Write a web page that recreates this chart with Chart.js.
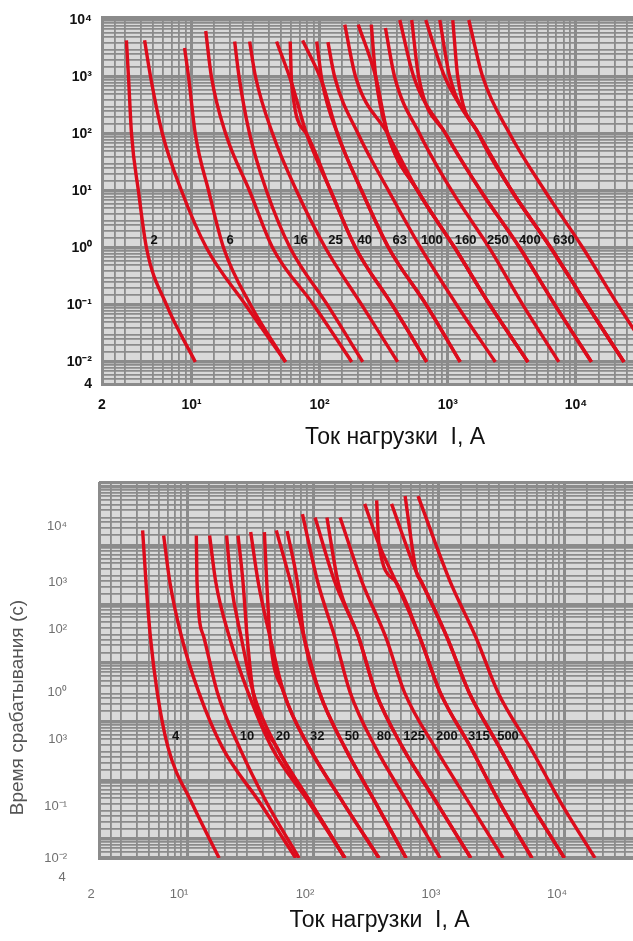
<!DOCTYPE html>
<html>
<head>
<meta charset="utf-8">
<script src="https://cdn.jsdelivr.net/npm/chart.js@4.4.0/dist/chart.umd.min.js"></script>
<style>
  html, body { margin: 0; padding: 0; background: #fff; overflow: hidden; width: 633px; height: 941px; }
  #boxTop { position: absolute; left: 0; top: 0; }
  #boxBot { position: absolute; left: 0; top: 460px; }
</style>
</head>
<body>
<div id="boxTop"><canvas id="topChart" width="688" height="460"></canvas></div>
<div id="boxBot"><canvas id="botChart" width="660" height="481"></canvas></div>
<script>
// ---------- upper panel: current (A) and time (s) of each curve ----------
const topCurrent = [
  [3.10, 3.22, 3.40, 3.85, 4.45, 6.38, 10.7],
  [4.30, 4.79, 5.93, 8.36, 13.1, 26.4, 54.2],
  [8.82, 9.48, 10.7, 13.6, 17.8, 28.9, 54.2],
  [12.9, 14.3, 18.5, 28.4, 43.0, 89.8, 178],
  [21.7, 23.5, 28.4, 38.5, 58.9, 115, 217],
  [28.4, 31.6, 43.0, 66.1, 111, 213, 406],
  [46.1, 60.4, 79.1, 122, 191, 368, 685],
  [58.9, 60.4, 79.1, 122, 191, 368, 685],
  [73.6, 105, 138, 213, 346, 679, 1250],
  [94.8, 105, 138, 213, 346, 679, 1250],
  [116, 131, 200, 346, 615, 1175, 2350],
  [157, 191, 340, 583, 1135, 2130, 4220],
  [200, 274, 340, 583, 1135, 2130, 4220],
  [253, 274, 340, 583, 1135, 2130, 4220],
  [326, 385, 604, 1075, 2110, 3855, 7360],
  [422, 543, 965, 1810, 3652, 6855, 13210],
  [523, 593, 965, 1810, 3652, 6855, 13210],
  [673, 948, 1746, 3162, 6380, 12190, 23710],
  [866, 1038, 1746, 3162, 6380, 12190, 23710],
  [1094, 1197, 1746, 3162, 6380, 12190, 23710],
  [1459, 1876, 3050, 5730, 11350, 21300, 41400]
];
const topTime = [
  [4400, 1000, 100, 10, 1, 0.1, 0.01],
  [4400, 1000, 100, 10, 1, 0.1, 0.01],
  [3240, 1000, 100, 10, 1, 0.1, 0.01],
  [6400, 1000, 100, 10, 1, 0.1, 0.01],
  [4200, 1000, 100, 10, 1, 0.1, 0.01],
  [4200, 1000, 100, 10, 1, 0.1, 0.01],
  [4200, 785, 100, 10, 1, 0.1, 0.01],
  [4200, 785, 100, 10, 1, 0.1, 0.01],
  [4400, 785, 100, 10, 1, 0.1, 0.01],
  [4200, 785, 100, 10, 1, 0.1, 0.01],
  [4100, 1000, 100, 10, 1, 0.1, 0.01],
  [8300, 1000, 100, 10, 1, 0.1, 0.01],
  [8300, 1000, 100, 10, 1, 0.1, 0.01],
  [8300, 1000, 100, 10, 1, 0.1, 0.01],
  [7240, 1000, 100, 10, 1, 0.1, 0.01],
  [10000, 1000, 100, 10, 1, 0.1, 0.01],
  [10000, 1000, 100, 10, 1, 0.1, 0.01],
  [10000, 1000, 100, 10, 1, 0.1, 0.01],
  [10000, 1000, 100, 10, 1, 0.1, 0.01],
  [10000, 1000, 100, 10, 1, 0.1, 0.01],
  [10000, 1000, 100, 10, 1, 0.1, 0.01]
];
const topNames = ['2', '6', '16', '25', '40', '63', '100', '160', '250', '400', '630'];
const topNameCurrent = [5.1, 20, 71, 133, 225, 422, 750, 1380, 2460, 4380, 8060];
const topNameTime = 1.38;
const topXTicks = [2, 10, 100, 1000, 10000];
const topXText = ['2', '10¹', '10²', '10³', '10⁴'];
const topYTicks = [0.0041, 0.01, 0.1, 1, 10, 100, 1000, 10000];
const topYText = ['4', '10⁻²', '10⁻¹', '10⁰', '10¹', '10²', '10³', '10⁴'];

// ---------- lower panel ----------
const botCurrent = [
  [4.44, 4.72, 5.12, 5.80, 7.07, 10.9, 17.97],
  [6.52, 7.30, 9.06, 12.4, 19.1, 37.9, 72.8],
  [11.85, 12.0, 13.6, 17.4, 26.1, 42.9, 77.4],
  [15.1, 16.9, 21.7, 30.5, 47.1, 93.3, 179],
  [20.6, 22.3, 26.9, 33.5, 51.7, 96.3, 179],
  [25.4, 27.8, 30.0, 33.5, 51.7, 96.3, 179],
  [32.0, 36.7, 45.6, 58.5, 93.3, 173.8, 334],
  [41.1, 42.9, 45.6, 58.5, 93.3, 173.8, 334],
  [51.1, 66.3, 84.9, 112.5, 179, 314, 548],
  [62.3, 75.1, 84.9, 112.5, 179, 314, 548],
  [82.4, 109, 149, 197, 314, 566, 1021],
  [103.8, 149, 230, 314, 515, 960, 1787],
  [128.9, 158, 230, 314, 515, 960, 1787],
  [164, 245, 378, 532, 931, 1733, 3228],
  [257, 334, 455, 703, 1021, 1787, 3033, 5470],
  [320, 334, 455, 703, 1021, 1787, 3033, 5470],
  [420, 661, 726, 1157, 1733, 3033, 5310, 9890],
  [538, 661, 726, 1157, 1733, 3033, 5310, 9890],
  [682, 1231, 1962, 2940, 5310, 9290, 17300]
];
const botTime = [
  [8630, 1000, 100, 10, 1, 0.1, 0.01],
  [6980, 1000, 100, 10, 1, 0.1, 0.01],
  [6980, 1000, 100, 10, 1, 0.1, 0.01],
  [6980, 1000, 100, 10, 1, 0.1, 0.01],
  [6980, 1000, 100, 10, 1, 0.1, 0.01],
  [6980, 1000, 100, 10, 1, 0.1, 0.01],
  [8040, 1000, 100, 10, 1, 0.1, 0.01],
  [8040, 1000, 100, 10, 1, 0.1, 0.01],
  [8630, 1000, 100, 10, 1, 0.1, 0.01],
  [8400, 1000, 100, 10, 1, 0.1, 0.01],
  [17000, 1000, 100, 10, 1, 0.1, 0.01],
  [14800, 1000, 100, 10, 1, 0.1, 0.01],
  [14800, 1000, 100, 10, 1, 0.1, 0.01],
  [14800, 1000, 100, 10, 1, 0.1, 0.01],
  [26100, 4750, 1000, 100, 10, 1, 0.1, 0.01],
  [30100, 4750, 1000, 100, 10, 1, 0.1, 0.01],
  [26100, 1528, 1000, 100, 10, 1, 0.1, 0.01],
  [36100, 1528, 1000, 100, 10, 1, 0.1, 0.01],
  [36100, 1000, 100, 10, 1, 0.1, 0.01]
];
const botNames = ['4', '10', '20', '32', '50', '80', '125', '200', '315', '500'];
const botNameCurrent = [8.1, 29.9, 57.8, 108, 204, 366, 634, 1156, 2075, 3530];
const botNameTime = 1.62;
const botXTicks = [2, 10, 100, 1000, 10000];
const botXText = ['2', '10¹', '10²', '10³', '10⁴'];
const botYTicks = [0.01, 0.085, 1.4, 10, 140, 1000, 10000];
const botYText = ['10⁻²', '10⁻¹', '10³', '10⁰', '10²', '10³', '10⁴'];

// ---------- helpers ----------
const RED = '#dc0c1c';
const GRIDC = '#8b8b8b';
const gridSteps = [1, 1.5, 2, 2.5, 3, 4, 5, 6, 7, 8, 9];

function gridValues(min, max) {
  const out = [min];
  for (let e = -4; e <= 5; e++) {
    gridSteps.forEach(k => {
      const v = k * Math.pow(10, e);
      if (v > min * 1.001 && v < max / 1.001) out.push(v);
    });
  }
  out.push(max);
  return out;
}
const isDecade = v => Math.abs(Math.log10(v) - Math.round(Math.log10(v))) < 1e-6;
function textFor(vals, texts) {
  return v => {
    const i = vals.findIndex(u => Math.abs(Math.log10(u) - Math.log10(v)) < 1e-4);
    return i >= 0 ? texts[i] : '';
  };
}
// the box sizes are fixed by hand, so drop the padding Chart.js adds for labels
function fixBox(w, h) {
  return s => {
    if (w !== null) s.width = w;
    if (h !== null) s.height = h;
    s.paddingLeft = 0; s.paddingRight = 0; s.paddingTop = 0; s.paddingBottom = 0;
  };
}
function makeSets(cur, tim) {
  return cur.map((xs, i) => ({
    data: xs.map((x, j) => ({ x: x, y: tim[i][j] })),
    showLine: true,
    borderColor: RED,
    borderWidth: 3.4,
    pointRadius: 0,
    fill: false,
    cubicInterpolationMode: 'monotone'
  }));
}

const plotBack = {
  id: 'plotBack',
  beforeDraw(chart) {
    const a = chart.chartArea, c = chart.ctx;
    c.save();
    c.fillStyle = '#d9d9d9';
    c.fillRect(a.left, a.top, a.right - a.left, a.bottom - a.top);
    c.restore();
  }
};
function curveNames(names, cur, time, extra) {
  return {
    id: 'curveNames',
    afterDatasetsDraw(chart) {
      const c = chart.ctx, xs = chart.scales.x, ys = chart.scales.y;
      c.save();
      c.font = 'bold 13px "Liberation Sans", Arial, sans-serif';
      c.fillStyle = '#111';
      c.textAlign = 'center';
      c.textBaseline = 'middle';
      names.forEach((s, i) => c.fillText(s, xs.getPixelForValue(cur[i]), ys.getPixelForValue(time)));
      c.restore();
      if (extra) extra(chart);
    }
  };
}

// decade lines and the frame are heavier than the other grid lines
const gridWidth = (major, minor) => ctx => {
  if (!ctx.tick) return minor;
  const v = ctx.tick.value, s = ctx.scale;
  if (Math.abs(v - s.min) < s.min * 1e-6 || Math.abs(v - s.max) < s.max * 1e-6) return 3;
  return isDecade(v) ? major : minor;
};
const boldFont = { family: '"Liberation Sans", Arial, sans-serif', size: 14, weight: 'bold' };
const titleFont = { family: '"Liberation Sans", Arial, sans-serif', size: 23 };

// ---------- upper chart ----------
const tMinX = 2, tMaxX = 75000, tMinY = 0.0041, tMaxY = 11300;
new Chart(document.getElementById('topChart'), {
  type: 'scatter',
  data: { datasets: makeSets(topCurrent, topTime) },
  options: {
    responsive: false,
    animation: false,
    layout: { padding: { top: 17, left: 0, right: 0, bottom: 0 } },
    plugins: { legend: { display: false }, tooltip: { enabled: false } },
    scales: {
      x: {
        type: 'logarithmic', min: tMinX, max: tMaxX,
        afterBuildTicks: s => { s.ticks = gridValues(tMinX, tMaxX).map(v => ({ value: v })); },
        afterFit: fixBox(null, 76),
        grid: { color: GRIDC, lineWidth: gridWidth(3, 1.8), drawTicks: false },
        border: { color: GRIDC, width: 3 },
        ticks: {
          autoSkip: false, maxRotation: 0, padding: 13, color: '#111', font: boldFont,
          callback: textFor(topXTicks, topXText)
        },
        title: {
          display: true, text: 'Ток нагрузки  I, А', color: '#111', font: titleFont,
          padding: { top: 0, bottom: 9 }
        }
      },
      y: {
        type: 'logarithmic', min: tMinY, max: tMaxY,
        afterBuildTicks: s => { s.ticks = gridValues(tMinY, tMaxY).map(v => ({ value: v })); },
        afterFit: fixBox(102, null),
        grid: { color: GRIDC, lineWidth: gridWidth(3.5, 1.8), drawTicks: false },
        border: { color: GRIDC, width: 3 },
        ticks: {
          autoSkip: false, padding: 10, color: '#111', font: boldFont,
          callback: textFor(topYTicks, topYText)
        }
      }
    }
  },
  plugins: [plotBack, curveNames(topNames, topNameCurrent, topNameTime)]
});

// ---------- lower chart ----------
const bMinX = 2, bMaxX = 56800, bMinY = 0.01, bMaxY = 64900, gMinY = 0.00476, gMaxY = 12160;
const lightFont = { family: '"Liberation Sans Narrow", "Liberation Sans", Arial, sans-serif', size: 13 };
new Chart(document.getElementById('botChart'), {
  type: 'scatter',
  data: { datasets: makeSets(botCurrent, botTime) },
  options: {
    responsive: false,
    animation: false,
    layout: { padding: { top: 22, left: 0, right: 0, bottom: 0 } },
    plugins: { legend: { display: false }, tooltip: { enabled: false } },
    scales: {
      x: {
        type: 'logarithmic', min: bMinX, max: bMaxX,
        afterBuildTicks: s => { s.ticks = gridValues(bMinX, bMaxX).map(v => ({ value: v })); },
        afterFit: fixBox(null, 83),
        grid: { color: GRIDC, lineWidth: gridWidth(3, 1.8), drawTicks: false },
        border: { color: GRIDC, width: 3 },
        ticks: {
          autoSkip: false, maxRotation: 0, padding: 29, labelOffset: -8, color: '#707070',
          font: lightFont,
          callback: textFor(botXTicks, botXText)
        },
        title: {
          display: true, text: 'Ток нагрузки  I, А', color: '#111', font: titleFont,
          padding: { top: 0, bottom: 7 }
        }
      },
      y: {
        type: 'logarithmic', position: 'left', min: bMinY, max: bMaxY,
        afterBuildTicks: s => { s.ticks = botYTicks.map(v => ({ value: v })); },
        afterFit: fixBox(99, null),
        grid: { display: false, drawTicks: false },
        border: { display: false },
        ticks: {
          autoSkip: false, padding: 32, color: '#707070', font: lightFont,
          callback: textFor(botYTicks, botYText)
        }
      },
      yg: {
        type: 'logarithmic', position: 'left', min: gMinY, max: gMaxY,
        afterBuildTicks: s => { s.ticks = gridValues(gMinY, gMaxY).map(v => ({ value: v })); },
        afterFit: fixBox(0, null),
        grid: { color: GRIDC, lineWidth: gridWidth(3.5, 1.8), drawTicks: false },
        border: { display: false },
        ticks: { display: false, autoSkip: false }
      }
    }
  },
  plugins: [plotBack, curveNames(botNames, botNameCurrent, botNameTime, chart => {
    const c = chart.ctx, a = chart.chartArea;
    c.save();
    c.font = '13px "Liberation Sans Narrow", "Liberation Sans", Arial, sans-serif';
    c.fillStyle = '#707070';
    c.textAlign = 'center';
    c.textBaseline = 'middle';
    c.fillText('4', 62, a.bottom + 19);
    c.translate(18, a.top + (a.bottom - a.top) * 0.6);
    c.rotate(-Math.PI / 2);
    c.font = '19px "Liberation Sans", Arial, sans-serif';
    c.fillStyle = '#555';
    c.fillText('Время срабатывания (с)', 0, 0);
    c.restore();
  })]
});
</script>
</body>
</html>
